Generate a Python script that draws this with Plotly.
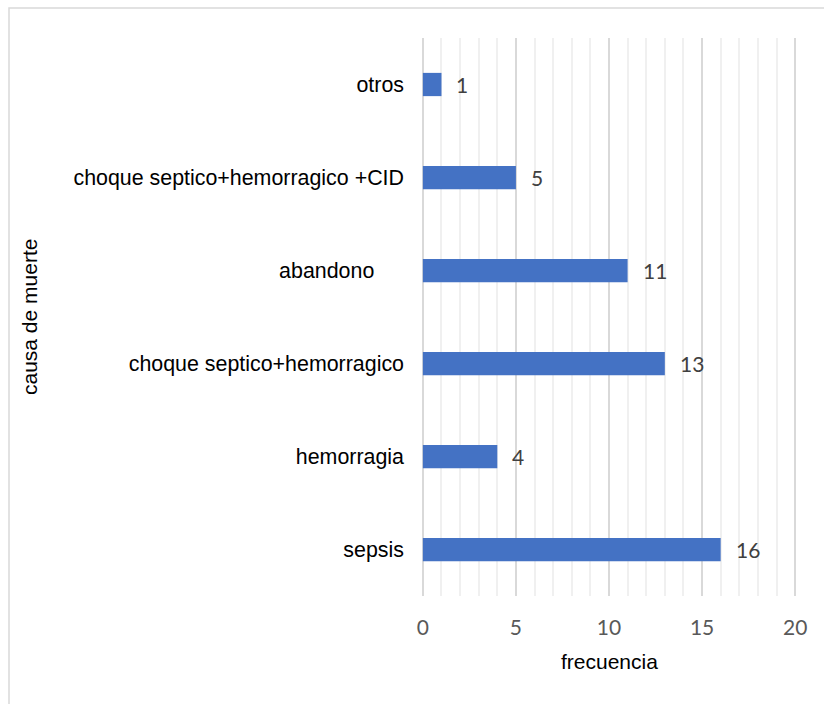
import plotly.graph_objects as go

# Causes of death and their counts (bottom to top)
causas = ["sepsis", "hemorragia", "choque septico+hemorragico", "abandono",
          "choque septico+hemorragico +CID", "otros"]
frecuencia = [16, 4, 13, 11, 5, 1]
etiquetas_y = ["sepsis", "hemorragia", "choque septico+hemorragico",
               "abandono" + "\u00a0" * 5, "choque septico+hemorragico +CID", "otros"]
ticks_x = [0, 5, 10, 15, 20]

W, H = 824, 704
ML, MR, MT, MB = 421, 27, 38, 108
PW, PH = W - ML - MR, H - MT - MB


def px_x(p):
    return (p - ML) / PW


def px_y(p):
    return 1 - (p - MT) / PH


fig = go.Figure(go.Bar(
    x=frecuencia, y=causas, orientation="h",
    marker=dict(color="#4472C4", line=dict(width=0)),
    width=0.25, hoverinfo="x+y",
))

for c, v in zip(causas, frecuencia):
    fig.add_annotation(x=v, y=c, text=str(v), showarrow=False,
                       xanchor="left", xshift=13,
                       font=dict(family="Lato, Open Sans, sans-serif", size=21, color="#404040"))

# axis titles
fig.add_annotation(xref="paper", yref="paper", x=px_x(609), y=px_y(662),
                   xanchor="center", yanchor="middle",
                   text="frecuencia", showarrow=False,
                   font=dict(family="Liberation Sans, Arial", size=21, color="#000000"))
fig.add_annotation(xref="paper", yref="paper", x=px_x(29), y=px_y(317),
                   xanchor="center", yanchor="middle",
                   text="causa de muerte", showarrow=False, textangle=-90,
                   font=dict(family="Liberation Sans, Arial", size=21, color="#000000"))

# chart frame
fig.add_shape(type="rect", xref="paper", yref="paper",
              x0=px_x(9), x1=px_x(W + 20), y0=px_y(H + 20), y1=px_y(8),
              line=dict(color="#d9d9d9", width=1.5), fillcolor="rgba(0,0,0,0)", layer="below")

fig.update_layout(
    width=W, height=H,
    margin=dict(l=ML, r=MR, t=MT, b=MB),
    paper_bgcolor="white", plot_bgcolor="white",
    showlegend=False,
    xaxis=dict(range=[-0.1, 20.1], tickvals=ticks_x, showgrid=True,
               gridcolor="#d9d9d9", gridwidth=1.5, zeroline=False,
               showline=False, ticks="", ticklabelstandoff=17,
               tickfont=dict(family="Lato, Open Sans, sans-serif", size=21, color="#595959"),
               minor=dict(dtick=1, showgrid=True, gridcolor="#f0f0f0", gridwidth=1.5, ticks="")),
    yaxis=dict(categoryorder="array", categoryarray=causas,
               tickvals=causas, ticktext=etiquetas_y,
               showgrid=False, zeroline=False, showline=False, ticks="",
               ticklabelstandoff=16,
               tickfont=dict(family="Liberation Sans, Arial", size=21.4, color="#000000")),
)

fig.write_html("out.html")
